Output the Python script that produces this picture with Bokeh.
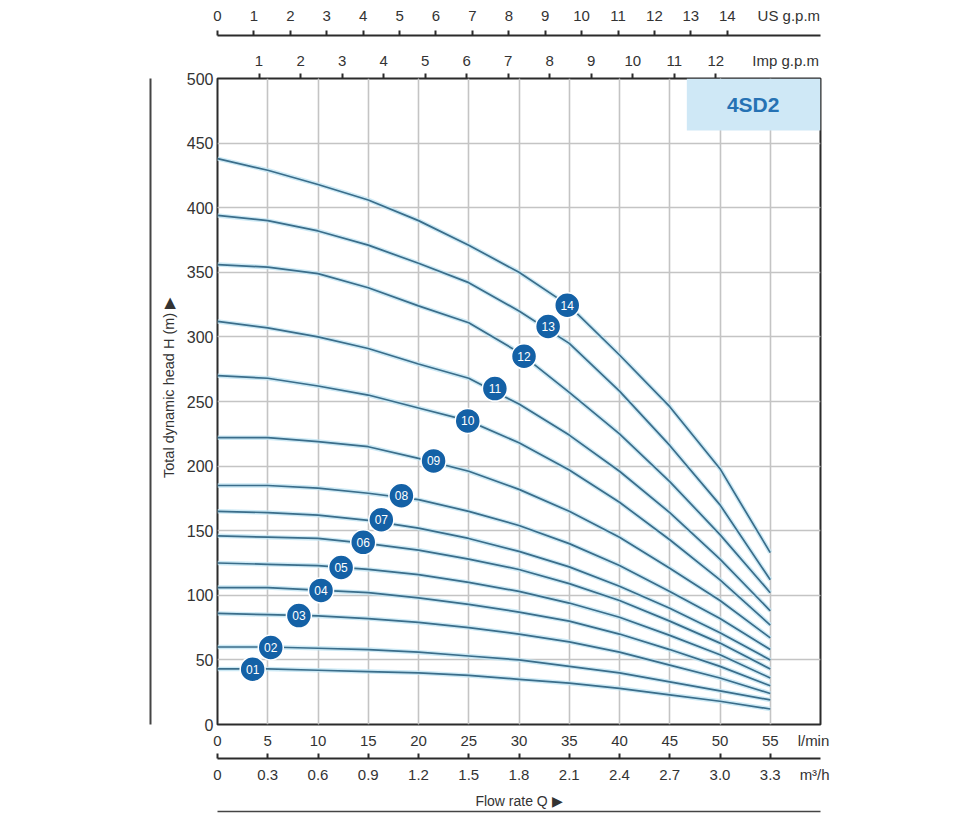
from bokeh.plotting import figure
from bokeh.models import (LinearAxis, Range1d, FixedTicker, ColumnDataSource,
                          BoxAnnotation, Grid, CustomJSTickFormatter, Label)
from bokeh.core.properties import value
from bokeh.embed import file_html
from bokeh.resources import INLINE

# ---------------- data ----------------
flow_lpm = [0, 5, 10, 15, 20, 25, 30, 35, 40, 45, 50, 55]

head_01 = [43, 43, 42, 41, 40, 38, 35, 32, 28, 23, 18, 12]
head_02 = [60, 60, 59, 58, 56, 53, 50, 45, 40, 33, 26, 19]
head_03 = [86, 85, 84, 82, 79, 75, 70, 64, 56, 46, 36, 24]
head_04 = [106, 106, 104, 102, 98, 93, 87, 80, 70, 58, 45, 30]
head_05 = [125, 124, 123, 120, 116, 110, 103, 94, 83, 69, 54, 36]
head_06 = [146, 145, 144, 140, 135, 128, 120, 109, 96, 80, 63, 43]
head_07 = [165, 164, 162, 158, 152, 144, 134, 122, 107, 90, 71, 50]
head_08 = [185, 185, 183, 179, 174, 165, 154, 140, 123, 103, 82, 58]
head_09 = [222, 222, 219, 215, 206, 196, 182, 165, 145, 121, 96, 67]
head_10 = [270, 268, 262, 255, 245, 235, 218, 197, 172, 143, 112, 77]
head_11 = [312, 307, 300, 291, 279, 268, 248, 224, 196, 164, 128, 88]
head_12 = [356, 354, 349, 338, 324, 311, 288, 257, 225, 188, 147, 102]
head_13 = [394, 390, 382, 371, 357, 342, 320, 295, 258, 216, 170, 112]
head_14 = [438, 429, 418, 406, 390, 371, 350, 324, 286, 246, 198, 133]

curves = [head_01, head_02, head_03, head_04, head_05, head_06, head_07,
          head_08, head_09, head_10, head_11, head_12, head_13, head_14]

curve_names = ["01", "02", "03", "04", "05", "06", "07",
               "08", "09", "10", "11", "12", "13", "14"]
label_flow = [3.5, 5.3, 8.1, 10.3, 12.3, 14.5, 16.3, 18.3, 21.5, 24.9, 27.6, 30.5, 32.9, 34.8]
label_head = [42.8, 59.6, 84.3, 103.8, 121.5, 141.0, 158.5, 177.0, 204.0, 235.0, 260.0, 285.0, 308.0, 324.5]

lpm_ticks = [0, 5, 10, 15, 20, 25, 30, 35, 40, 45, 50, 55]
m3h_ticks = [0, 0.3, 0.6, 0.9, 1.2, 1.5, 1.8, 2.1, 2.4, 2.7, 3.0, 3.3]
us_ticks = list(range(0, 15))
imp_ticks = list(range(1, 13))
head_ticks = [0, 50, 100, 150, 200, 250, 300, 350, 400, 450, 500]

# where the unit names sit on each axis (in that axis' own units)
unit_lpm, unit_m3h, unit_us, unit_imp = 59.3, 3.565, 15.69, 13.68

model_name = "4SD2"

# ---------------- figure ----------------
FONT = "Liberation Sans"
TXT = "#333333"
FRAME = "#2b2b2b"
NBSP = "\u00A0"

p = figure(width=980, height=826, x_range=Range1d(0, 60), y_range=Range1d(0, 500),
           output_backend="svg", toolbar_location=None,
           x_axis_location=None, y_axis_location=None,
           min_border_left=217, min_border_right=160, min_border_top=78, min_border_bottom=102)
p.outline_line_color = FRAME
p.outline_line_width = 2
p.background_fill_color = "white"
p.border_fill_color = "white"
p.extra_x_ranges = {"m3h": Range1d(0, 3.6), "us": Range1d(0, 16.56), "imp": Range1d(0, 14.52)}

# grid
p.add_layout(Grid(dimension=0, ticker=FixedTicker(ticks=lpm_ticks[1:]),
                  grid_line_color="#c4c4c4", grid_line_width=1.6))
p.add_layout(Grid(dimension=1, ticker=FixedTicker(ticks=head_ticks[1:-1]),
                  grid_line_color="#c4c4c4", grid_line_width=1.6))


def style_axis(ax, size="15px"):
    ax.major_label_text_font = FONT
    ax.major_label_text_font_size = size
    ax.major_label_text_color = TXT
    ax.axis_label_text_font = FONT
    ax.axis_label_text_font_style = "normal"
    ax.axis_label_text_color = TXT
    ax.minor_tick_line_color = None
    return ax


def unit_formatter(threshold, unit, fixed=False):
    num = "(tick == 0 ? '0' : tick.toFixed(1))" if fixed else "String(tick)"
    return CustomJSTickFormatter(code=f"if (tick > {threshold}) return '{unit}'; return {num};")


def spacer_axis(size, standoff):
    return LinearAxis(ticker=FixedTicker(ticks=[]), axis_line_color=None,
                      major_tick_line_color=None, minor_tick_line_color=None,
                      major_tick_out=0, axis_label=" ", axis_label_text_font_size=size,
                      axis_label_standoff=standoff)


# bottom axes
ax_lpm = style_axis(LinearAxis(ticker=FixedTicker(ticks=lpm_ticks + [unit_lpm]),
                               formatter=unit_formatter(56, "l/min")))
ax_lpm.axis_line_color = None
ax_lpm.major_tick_line_color = None
ax_lpm.major_tick_out = 0
ax_lpm.major_label_standoff = 7
ax_lpm.axis_label = " "
ax_lpm.axis_label_text_font_size = "3px"
ax_lpm.axis_label_standoff = 1
p.add_layout(ax_lpm, "below")

ax_m3 = style_axis(LinearAxis(x_range_name="m3h",
                              ticker=FixedTicker(ticks=m3h_ticks + [unit_m3h], minor_ticks=m3h_ticks),
                              formatter=unit_formatter(3.4, "m\u00B3/h", fixed=True)))
ax_m3.axis_line_color = FRAME
ax_m3.axis_line_width = 2
ax_m3.major_tick_line_color = None
ax_m3.major_tick_in = 0
ax_m3.major_tick_out = 0
ax_m3.minor_tick_line_color = FRAME
ax_m3.minor_tick_line_width = 2
ax_m3.minor_tick_in = 5
ax_m3.minor_tick_out = 0
ax_m3.major_label_standoff = 7
ax_m3.axis_label = "Flow rate Q \u25B6"
ax_m3.axis_label_text_font_size = "14px"
ax_m3.axis_label_standoff = 7
p.add_layout(ax_m3, "below")

ax_bline = LinearAxis(ticker=FixedTicker(ticks=[]), axis_line_color="#444444",
                      axis_line_width=1.5, major_tick_line_color=None, minor_tick_line_color=None)
p.add_layout(ax_bline, "below")

# left axes
ax_y = style_axis(LinearAxis(ticker=FixedTicker(ticks=head_ticks)), size="16px")
ax_y.axis_line_color = None
ax_y.major_tick_line_color = None
ax_y.major_tick_out = 0
ax_y.major_label_standoff = 4
ax_y.axis_label = NBSP * 7 + "Total dynamic head H (m) \u25B6"
ax_y.axis_label_text_font_size = "14.5px"
ax_y.axis_label_standoff = 7
p.add_layout(ax_y, "left")

p.add_layout(spacer_axis("2.5px", 1), "left")

ax_lline = LinearAxis(ticker=FixedTicker(ticks=[]), axis_line_color="#444444",
                      axis_line_width=2, major_tick_line_color=None, minor_tick_line_color=None)
p.add_layout(ax_lline, "left")

# top axes
ax_imp = style_axis(LinearAxis(x_range_name="imp",
                               ticker=FixedTicker(ticks=imp_ticks + [unit_imp], minor_ticks=imp_ticks),
                               formatter=unit_formatter(12.5, "Imp g.p.m")))
ax_imp.axis_line_color = None
ax_imp.major_tick_line_color = None
ax_imp.major_tick_out = 5
ax_imp.major_tick_in = 0
ax_imp.minor_tick_line_color = FRAME
ax_imp.minor_tick_line_width = 2
ax_imp.minor_tick_out = 5
ax_imp.minor_tick_in = 0
ax_imp.major_label_standoff = 5
ax_imp.axis_label = " "
ax_imp.axis_label_text_font_size = "9px"
ax_imp.axis_label_standoff = 0
p.add_layout(ax_imp, "above")

ax_us = style_axis(LinearAxis(x_range_name="us",
                              ticker=FixedTicker(ticks=us_ticks + [unit_us], minor_ticks=us_ticks),
                              formatter=unit_formatter(14.5, "US g.p.m")))
ax_us.axis_line_color = FRAME
ax_us.axis_line_width = 2
ax_us.major_tick_line_color = None
ax_us.major_tick_out = 5
ax_us.major_tick_in = 0
ax_us.minor_tick_line_color = FRAME
ax_us.minor_tick_line_width = 2
ax_us.minor_tick_out = 5
ax_us.minor_tick_in = 0
ax_us.major_label_standoff = 7
p.add_layout(ax_us, "above")

# model box
p.add_layout(BoxAnnotation(left=46.7, right=60, bottom=459.8, top=500,
                           fill_color="#cfe8f6", fill_alpha=1.0, line_color=None))
p.add_layout(Label(x=53.3, y=480, text=model_name, text_align="center", text_baseline="middle",
                   text_font=FONT, text_font_size="21px", text_font_style="bold",
                   text_color="#2672b4"))

# curves
for h in curves:
    src = ColumnDataSource(dict(q=flow_lpm, h=h))
    p.line("q", "h", source=src, line_color="#bfe3f2", line_width=4.5, line_alpha=0.8)
    p.line("q", "h", source=src, line_color="#3a6d8a", line_width=1.7)

lab_src = ColumnDataSource(dict(q=label_flow, h=label_head, name=curve_names))
p.scatter("q", "h", source=lab_src, size=25, marker="circle", fill_color="#1461a6",
          line_color="white", line_width=1.5)
p.text("q", "h", text="name", source=lab_src, text_color="white", text_font_size="12px",
       text_align="center", text_baseline="middle", text_font=value(FONT))

open("out.html", "w").write(file_html(p, INLINE))
